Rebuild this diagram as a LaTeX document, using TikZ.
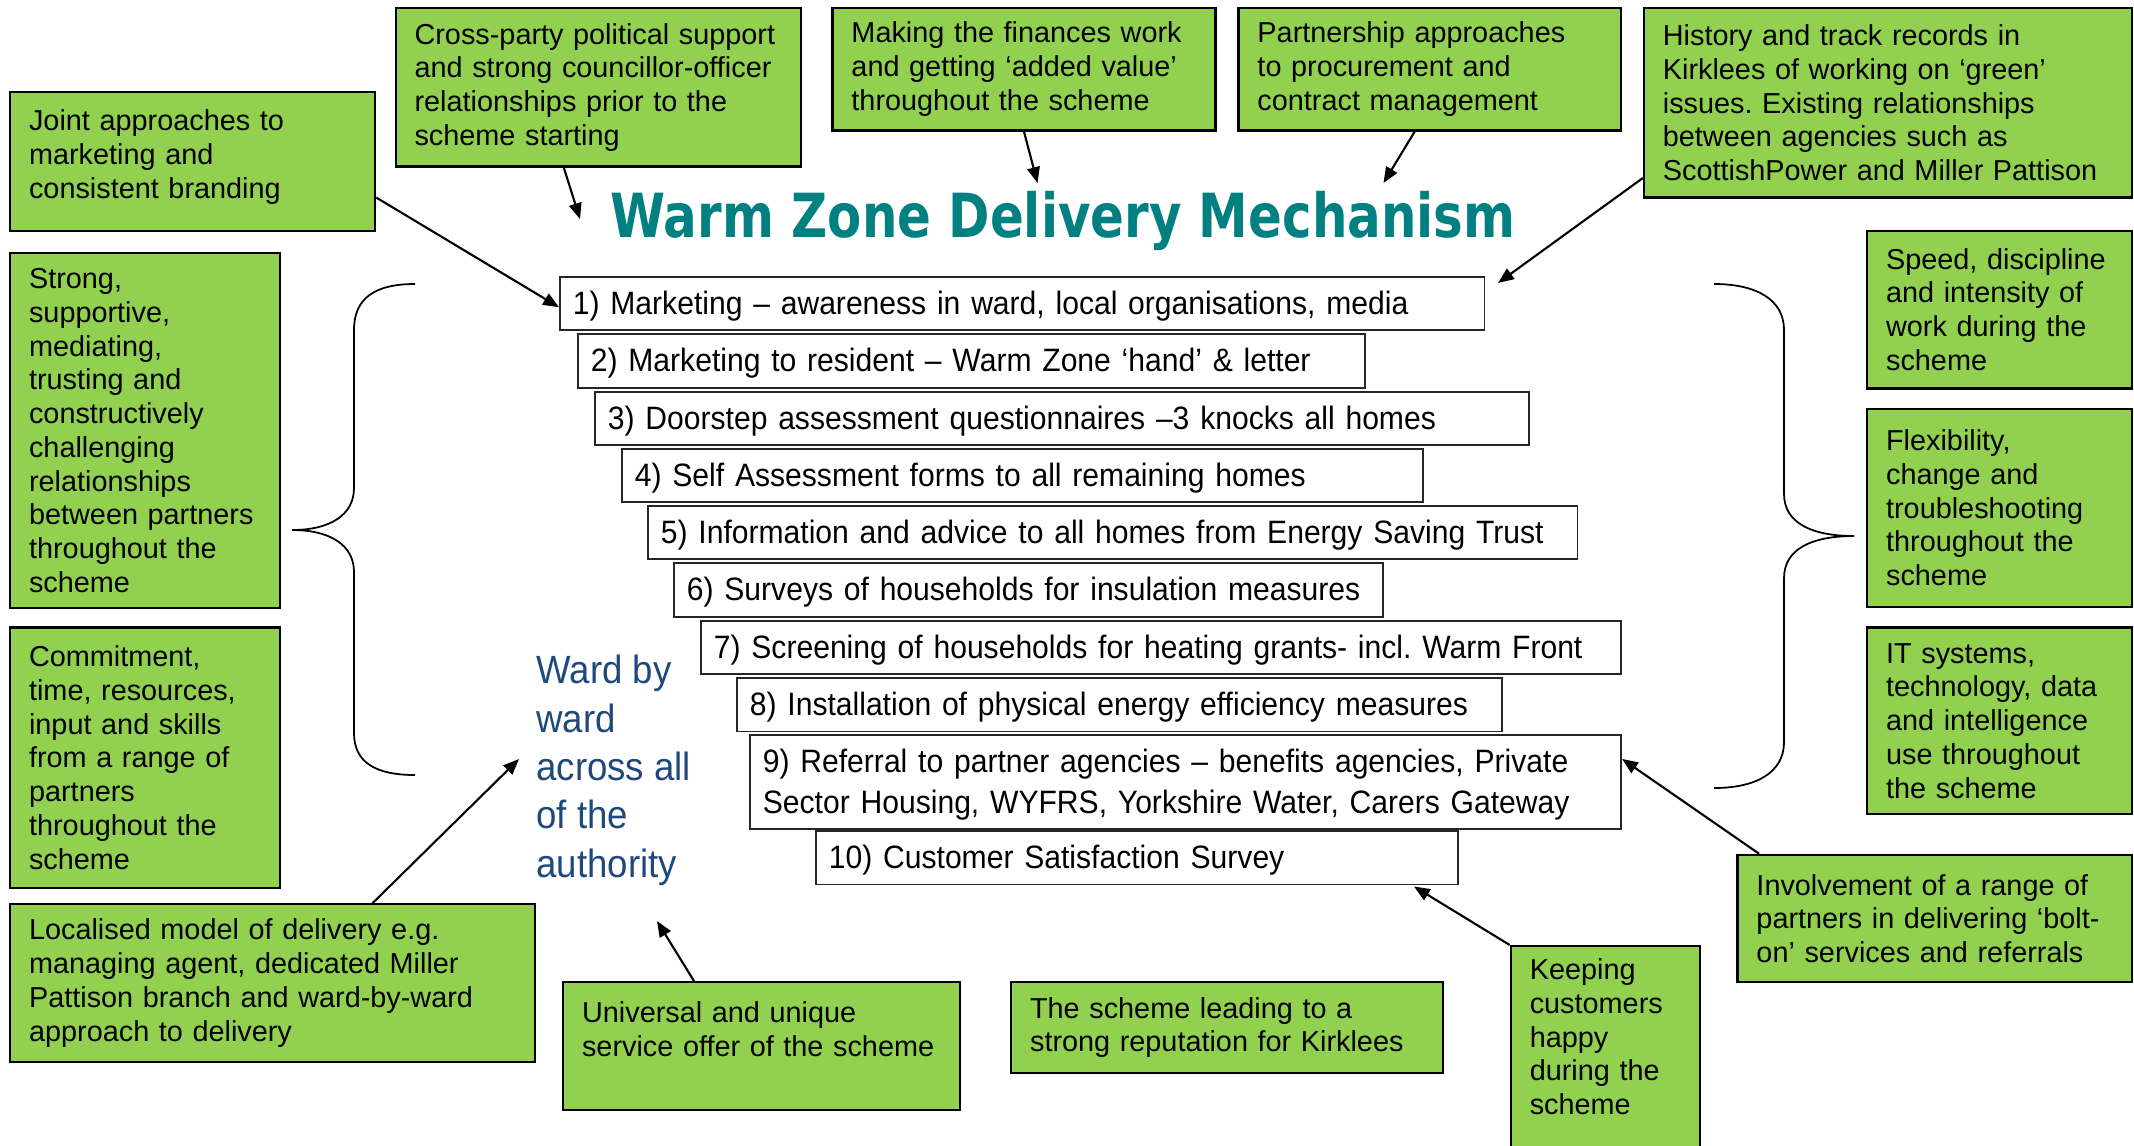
\documentclass[tikz,border=0pt]{standalone}
\usepackage{fontspec}
\setmainfont{Liberation Sans}
\newfontfamily\stepfont[FakeStretch=0.93]{Liberation Sans}
\newfontfamily\wardfont[FakeStretch=0.93]{Liberation Sans}
\newfontfamily\titlefont[FakeStretch=0.82]{DejaVu Sans}
\usetikzlibrary{arrows.meta,calc}
\definecolor{boxgreen}{RGB}{146,208,80}
\definecolor{titleteal}{RGB}{0,128,128}
\definecolor{wardblue}{RGB}{31,73,125}
\frenchspacing

\begin{document}
\begin{tikzpicture}[x=0.01cm,y=-0.01cm,
	>={Triangle[length=4.5pt,width=3.6pt]},
	gbox/.style={draw=black,line width=0.6pt,fill=boxgreen,anchor=north west,align=left,
		inner xsep=5.4pt,inner ysep=2pt,font=\fontsize{8.2}{9.6}\selectfont},
	stepbox/.style={draw=black!85,line width=0.5pt,fill=white,anchor=north west,align=left,
		inner xsep=3.6pt,inner ysep=1pt,text height=8.2pt,font=\stepfont\fontsize{9.2}{11.6}\selectfont},
	link/.style={->,line width=0.6pt},
	brace/.style={line width=0.5pt}]
	\useasboundingbox (0,0) rectangle (2134,1145);
	\clip (0,0) rectangle (2134,1145);
	% title and the steps
	\node[anchor=base west,inner sep=0,text=titleteal,font=\titlefont\bfseries\fontsize{17.3}{20}\selectfont] (title) at (610,237.7) {Warm Zone Delivery Mechanism};
	\node[stepbox,minimum width=9.24cm,text width=8.98cm,minimum height=0.53cm] (s1) at (559,276) {1) Marketing – awareness in ward, local organisations, media};
	\node[stepbox,minimum width=7.87cm,text width=7.61cm,minimum height=0.54cm] (s2) at (577,333) {2) Marketing to resident – Warm Zone ‘hand’ \& letter};
	\node[stepbox,minimum width=9.335cm,text width=9.075cm,minimum height=0.53cm] (s3) at (594,391) {3) Doorstep assessment questionnaires –3 knocks all homes};
	\node[stepbox,minimum width=8.01cm,text width=7.75cm,minimum height=0.53cm] (s4) at (621,448) {4) Self Assessment forms to all remaining homes};
	\node[stepbox,minimum width=9.29cm,text width=9.03cm,minimum height=0.53cm] (s5) at (647,505) {5) Information and advice to all homes from Energy Saving Trust};
	\node[stepbox,minimum width=7.084cm,text width=6.824cm,minimum height=0.54cm] (s6) at (673,562) {6) Surveys of households for insulation measures};
	\node[stepbox,minimum width=9.196cm,text width=8.936cm,minimum height=0.53cm] (s7) at (700,620) {7) Screening of households for heating grants- incl. Warm Front};
	\node[stepbox,minimum width=7.65cm,text width=7.39cm,minimum height=0.535cm] (s8) at (736,677) {8) Installation of physical energy efficiency measures};
	\node[stepbox,minimum width=8.708cm,text width=8.448cm,minimum height=0.94cm] (s9) at (749,734) {9) Referral to partner agencies – benefits agencies, Private\\Sector Housing, WYFRS, Yorkshire Water, Carers Gateway};
	\node[stepbox,minimum width=6.42cm,text width=6.16cm,minimum height=0.535cm] (s10) at (815,830) {10) Customer Satisfaction Survey};
	\node[anchor=north west,inner sep=0,align=left,text=wardblue,font=\wardfont\fontsize{11.2}{13.75}\selectfont] (ward) at (535.7,654.6) {Ward by\\ward\\across all\\of the\\authority};
	%
	\node[gbox,minimum width=3.65cm,text width=3.27cm,minimum height=1.39cm] (joint) at (9,91) {Joint approaches to\\marketing and\\consistent branding\\[-5.3pt]\mbox{}};
	\node[gbox,minimum width=4.055cm,text width=3.675cm,minimum height=1.583cm] (crossparty) at (394.5,7) {Cross-party political support\\and strong councillor-officer\\relationships prior to the\\scheme starting};
	\node[gbox,minimum width=3.828cm,text width=3.448cm,minimum height=1.224cm] (finances) at (831.4,7) {Making the finances work\\and getting ‘added value’\\throughout the scheme};
	\node[gbox,minimum width=3.822cm,text width=3.442cm,minimum height=1.224cm] (procure) at (1237.4,7) {Partnership approaches\\to procurement and\\contract management};
	\node[gbox,minimum width=4.88cm,text width=4.50cm,minimum height=1.893cm] (history) at (1642.8,7) {History and track records in\\Kirklees of working on ‘green’\\issues. Existing relationships\\between agencies such as\\ScottishPower and Miller Pattison};
	\node[gbox,minimum width=2.70cm,text width=2.32cm,minimum height=3.543cm] (strong) at (9,252.3) {Strong,\\supportive,\\mediating,\\trusting and\\constructively\\challenging\\relationships\\between partners\\throughout the\\scheme};
	\node[gbox,minimum width=2.70cm,text width=2.32cm,minimum height=2.60cm] (commit) at (9,626.4) {Commitment,\\time, resources,\\input and skills\\from a range of\\partners\\throughout the\\scheme};
	\node[gbox,minimum width=5.25cm,text width=4.87cm,minimum height=1.575cm] (local) at (9,903.3) {Localised model of delivery e.g.\\managing agent, dedicated Miller\\Pattison branch and ward-by-ward\\approach to delivery};
	\node[gbox,minimum width=3.964cm,text width=3.584cm,minimum height=1.275cm] (universal) at (562,981) {Universal and unique\\service offer of the scheme\\\mbox{}};
	\node[gbox,minimum width=4.315cm,text width=3.935cm,minimum height=0.91cm] (reputation) at (1010,981) {The scheme leading to a\\strong reputation for Kirklees};
	\node[gbox,minimum width=1.89cm,text width=1.51cm,minimum height=2.15cm] (happy) at (1509.7,945) {Keeping\\customers\\happy\\during the\\scheme\\\mbox{}};
	\node[gbox,minimum width=3.946cm,text width=3.566cm,minimum height=1.273cm] (involve) at (1736.4,853.7) {Involvement of a range of\\partners in delivering ‘bolt-\\on’ services and referrals};
	\node[gbox,minimum width=2.65cm,text width=2.27cm,minimum height=1.577cm] (speed) at (1866,229.6) {Speed, discipline\\and intensity of\\work during the\\scheme};
	\node[gbox,minimum width=2.65cm,text width=2.27cm,minimum height=1.976cm] (flexible) at (1866,408) {Flexibility,\\change and\\troubleshooting\\throughout the\\scheme};
	\node[gbox,minimum width=2.65cm,text width=2.27cm,minimum height=1.866cm] (itsys) at (1866,626.4) {IT systems,\\technology, data\\and intelligence\\use throughout\\the scheme};
	% braces
	\draw[brace] (415,284) .. controls (375,284) and (354,298) .. (354,330) -- (354,488) .. controls (354,515) and (330,530) .. (292,530) .. controls (330,530) and (354,545) .. (354,572) -- (354,733) .. controls (354,762) and (375,775) .. (415,775);
	\draw[brace] (1714,284) .. controls (1757,284) and (1784,300) .. (1784,330) -- (1784,494) .. controls (1784,522) and (1810,536) .. (1854,536) .. controls (1810,536) and (1784,550) .. (1784,578) -- (1784,742) .. controls (1784,772) and (1757,788) .. (1714,788);
	% arrows
	\coordinate (tcross) at (580,219);
	\coordinate (tfin) at (1037.5,183);
	\coordinate (tproc) at (1383.5,183);
	\coordinate (thist) at (1498,283);
	\coordinate (tlocal) at (519,759);
	\coordinate (tuniv) at (657,921);
	\coordinate (thappy) at (1414,886.5);
	\draw[link] ($(joint.north east)!0.755!(joint.south east)$) -- ($(s1.north west)!0.57!(s1.south west)$);
	\draw[link] ($(crossparty.south west)!0.415!(crossparty.south east)$) -- (tcross);
	\draw[link] (finances.south) -- (tfin);
	\draw[link] ($(procure.south west)!0.461!(procure.south east)$) -- (tproc);
	\draw[link] ($(history.north west)!0.893!(history.south west)$) -- (thist);
	\draw[link] ($(local.north west)!0.689!(local.north east)$) -- (tlocal);
	\draw[link] ($(universal.north west)!0.331!(universal.north east)$) -- (tuniv);
	\draw[link] (happy.north west) -- (thappy);
	\draw[link] ($(involve.north west)!0.057!(involve.north east)$) -- ($(s9.north east)!0.26!(s9.south east)$);
\end{tikzpicture}
\end{document}
